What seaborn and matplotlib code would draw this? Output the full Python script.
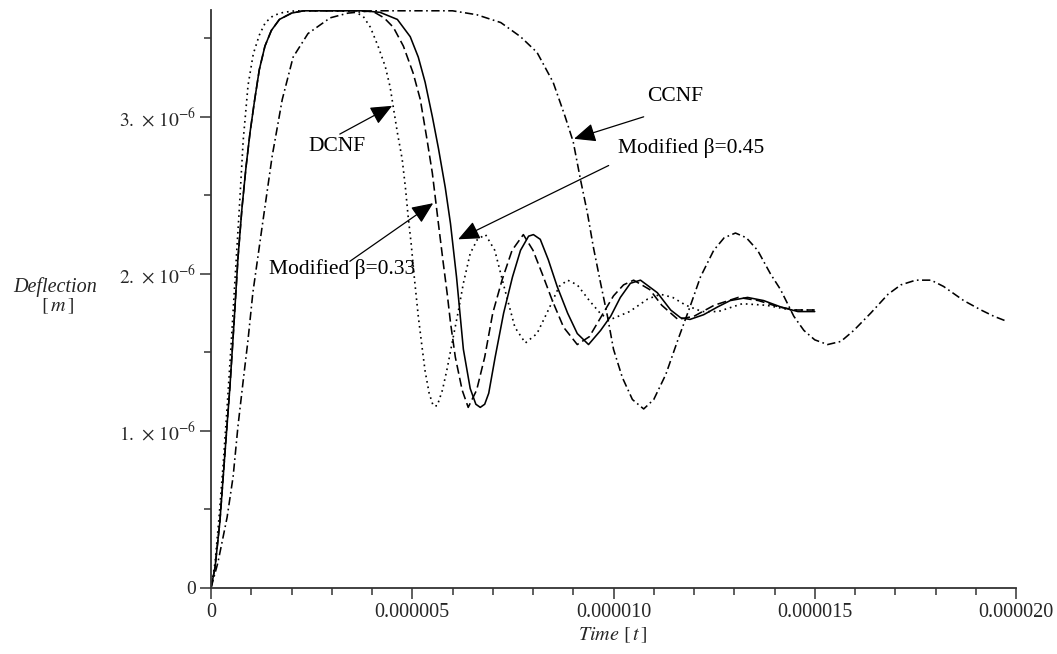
import numpy as np
import pandas as pd
import matplotlib
matplotlib.use("Agg")
import matplotlib.pyplot as plt
import seaborn as sns

# ---------------- data (time in microseconds, deflection in 1e-6 m) -------------
dcnf_t = [0, 0.1, 0.2, 0.3, 0.4, 0.5, 0.6, 0.7, 0.8, 0.92, 1.05, 1.2, 1.35, 1.55, 1.8, 2.1,
          2.8, 3.4, 3.6, 3.78, 3.96, 4.15, 4.33, 4.45, 4.53, 4.63, 4.75, 4.83, 4.90, 4.97,
          5.05, 5.15, 5.25, 5.32, 5.42, 5.52, 5.62, 5.75, 5.87, 6.02, 6.15, 6.27, 6.44,
          6.62, 6.82, 7.05, 7.3, 7.55, 7.81, 8.1, 8.4, 8.65, 8.86, 9.1, 9.4, 9.7, 9.93,
          10.4, 10.85, 11.17, 11.47, 11.8, 12.2, 12.6, 13.2, 13.8, 14.4, 15.0]
dcnf_y = [0, 0.16, 0.45, 0.78, 1.15, 1.55, 1.98, 2.4, 2.85, 3.2, 3.4, 3.52, 3.6, 3.645, 3.665, 3.675,
          3.675, 3.672, 3.665, 3.64, 3.57, 3.45, 3.32, 3.19, 3.06, 2.90, 2.73, 2.55, 2.36, 2.2,
          1.98, 1.73, 1.52, 1.38, 1.24, 1.16, 1.16, 1.26, 1.40, 1.60, 1.77, 1.94, 2.13,
          2.22, 2.25, 2.15, 1.90, 1.66, 1.56, 1.62, 1.78, 1.92, 1.96, 1.93, 1.83, 1.74, 1.71,
          1.76, 1.84, 1.87, 1.85, 1.80, 1.76, 1.76, 1.81, 1.80, 1.77, 1.77]

mod045_t = [0, 0.1, 0.22, 0.35, 0.47, 0.57, 0.67, 0.77, 0.87, 0.97, 1.08, 1.2, 1.34, 1.5, 1.7, 2.0,
            2.3, 3.0, 3.8, 4.2, 4.63, 4.95, 5.15, 5.32, 5.5, 5.65, 5.82, 5.95, 6.1, 6.27, 6.44,
            6.58, 6.69, 6.8, 6.9, 7.06, 7.27, 7.49, 7.69, 7.89, 8.01, 8.18, 8.38, 8.6, 8.86,
            9.1, 9.38, 9.68, 9.93, 10.17, 10.42, 10.67, 11.09, 11.42, 11.67, 11.9, 12.24,
            12.59, 12.9, 13.33, 13.73, 14.15, 14.58, 15.0]
mod045_y = [0, 0.13, 0.42, 0.87, 1.28, 1.68, 2.1, 2.42, 2.68, 2.9, 3.1, 3.3, 3.45, 3.55, 3.62, 3.66,
            3.675, 3.675, 3.675, 3.665, 3.62, 3.51, 3.38, 3.22, 3.0, 2.8, 2.55, 2.32, 1.98, 1.52, 1.27,
            1.17, 1.15, 1.17, 1.24, 1.47, 1.75, 1.98, 2.15, 2.24, 2.25, 2.22, 2.09, 1.92, 1.75,
            1.62, 1.55, 1.64, 1.73, 1.85, 1.94, 1.96, 1.88, 1.77, 1.72, 1.71, 1.74,
            1.79, 1.83, 1.85, 1.83, 1.79, 1.76, 1.76]

mod033_t = [0, 0.1, 0.22, 0.35, 0.47, 0.57, 0.67, 0.77, 0.87, 0.97, 1.08, 1.2, 1.34, 1.5, 1.7, 2.0,
            2.3, 3.0, 3.6, 4.03, 4.3, 4.53, 4.78, 5.02, 5.2, 5.37, 5.5, 5.65, 5.77, 5.87, 5.95,
            6.07, 6.24, 6.39, 6.6, 6.8, 7.0, 7.23, 7.48, 7.76, 8.0, 8.23, 8.48, 8.76, 9.1, 9.4,
            9.7, 10.0, 10.25, 10.5, 10.9, 11.2, 11.6, 12.0, 12.5, 13.1, 13.6, 14.1, 14.5, 15.0]
mod033_y = [0, 0.13, 0.42, 0.87, 1.28, 1.68, 2.1, 2.42, 2.68, 2.9, 3.1, 3.3, 3.45, 3.55, 3.62, 3.66,
            3.675, 3.675, 3.675, 3.67, 3.63, 3.57, 3.45, 3.28, 3.11, 2.85, 2.64, 2.32, 2.07, 1.87, 1.69,
            1.47, 1.26, 1.15, 1.26, 1.47, 1.75, 1.96, 2.15, 2.25, 2.15, 2.0, 1.83, 1.66, 1.55, 1.60,
            1.73, 1.86, 1.93, 1.96, 1.90, 1.80, 1.71, 1.73, 1.80, 1.85, 1.83, 1.79, 1.77, 1.77]

ccnf_t = [0, 0.17, 0.40, 0.55, 0.67, 0.80, 0.92, 1.04, 1.27, 1.52, 1.77, 2.04, 2.41, 2.96, 3.4,
          4.0, 5.0, 6.0, 6.6, 7.2, 7.69, 8.1, 8.5, 8.8, 9.0, 9.18, 9.35, 9.5, 9.68, 9.85, 10.0,
          10.22, 10.47, 10.75, 11.0, 11.3, 11.6, 11.9, 12.16, 12.49, 12.75, 13.03, 13.3, 13.58,
          13.9, 14.15, 14.48, 14.73, 15.0, 15.32, 15.65, 15.97, 16.39, 16.82, 17.14, 17.51,
          17.89, 18.2, 18.7, 19.13, 19.45, 19.75]
ccnf_y = [0, 0.16, 0.45, 0.71, 1.03, 1.32, 1.58, 1.88, 2.30, 2.75, 3.11, 3.38, 3.53, 3.63, 3.66,
          3.675, 3.675, 3.675, 3.65, 3.60, 3.51, 3.41, 3.22, 3.0, 2.84, 2.6, 2.39, 2.17, 1.94, 1.73, 1.52,
          1.34, 1.20, 1.14, 1.20, 1.36, 1.58, 1.79, 1.98, 2.15, 2.23, 2.26, 2.23, 2.15,
          2.0, 1.90, 1.73, 1.64, 1.58, 1.55, 1.57, 1.64, 1.75, 1.87, 1.93, 1.96,
          1.96, 1.92, 1.83, 1.77, 1.73, 1.70]

x_ticks = [0, 5, 10, 15, 20]
x_tick_labels = ["0", "0.000005", "0.000010", "0.000015", "0.000020"]
y_ticks = [0, 1, 2, 3]
y_tick_labels = ["0", r"$1.\ {\times}\ 10^{-6}$", r"$2.\ {\times}\ 10^{-6}$",
                 r"$3.\ {\times}\ 10^{-6}$"]

U = 1e-6

# ---------------- style -------------
sns.set_theme(style="white")
plt.rcParams["font.family"] = ["Liberation Serif", "DejaVu Serif"]
plt.rcParams["mathtext.fontset"] = "stix"
plt.rcParams["lines.scale_dashes"] = False

W, H = 1057, 654
fig = plt.figure(figsize=(W / 100, H / 100), dpi=100)
ax = fig.add_axes([211 / W, 1 - 588 / H, (1016 - 211) / W, (588 - 10) / H])

series = [
    (dcnf_t, dcnf_y, (0, (1.2, 2.8)), 1.2),
    (mod045_t, mod045_y, "-", 1.15),
    (mod033_t, mod033_y, (0, (6.5, 3.0)), 1.15),
    (ccnf_t, ccnf_y, (0, (6.0, 2.5, 1.2, 2.5)), 1.15),
]
for t, y, ls, lw in series:
    df = pd.DataFrame({"t": np.array(t) * U, "y": np.array(y) * U})
    sns.lineplot(data=df, x="t", y="y", ax=ax, color="black", lw=lw,
                 linestyle=ls, estimator=None, sort=False, legend=False)

ax.set_xlim(0, 20 * U)
ax.set_ylim(0, 3.68 * U)

ax.set_xticks(np.array(x_ticks) * U)
ax.set_xticklabels(x_tick_labels, fontsize=14.5)
ax.set_xticks(np.arange(0, 21) * U, minor=True)
ax.set_yticks(np.array(y_ticks) * U)
ax.set_yticklabels(y_tick_labels, fontsize=14)
ax.set_yticks(np.arange(0, 3.6, 0.5) * U, minor=True)

for s in ["top", "right"]:
    ax.spines[s].set_visible(False)
for s in ["left", "bottom"]:
    ax.spines[s].set_color("#333333")
    ax.spines[s].set_linewidth(1.3)

ax.tick_params(which="major", direction="out", length=8, width=1.1, color="#333333",
               pad=3, bottom=True, left=True)
ax.tick_params(which="minor", direction="out", length=5, width=1.1, color="#333333",
               bottom=True, left=True)
ax.set_xlabel("")
ax.set_ylabel("")
ax.grid(False)

# axis labels
fig.text(55 / W, 1 - 287 / H, "Deflection", ha="center", va="center",
         fontsize=14.5, style="italic")
fig.text(57 / W, 1 - 307 / H, r"$[\,m\,]$", ha="center", va="center", fontsize=14.5)
fig.text(613 / W, 1 - 636 / H, r"$Time\ [\,t\,]$", ha="center", va="center", fontsize=14.5)

# annotations (positions in data units: microseconds, 1e-6 m)
arrow_kw = dict(arrowstyle="-|>,head_length=0.55,head_width=0.24", color="black",
                lw=0.9, mutation_scale=24, shrinkA=0, shrinkB=0)


def note(label, text_pos, tail, tip):
    ax.text(text_pos[0] * U, text_pos[1] * U, label, ha="center", va="center",
            fontsize=15.5, color="black")
    ax.annotate("", xy=(tip[0] * U, tip[1] * U), xytext=(tail[0] * U, tail[1] * U),
                arrowprops=dict(arrow_kw))


note("DCNF", (3.13, 2.81), (3.2, 2.89), (4.50, 3.07))
note("CCNF", (11.54, 3.13), (10.75, 3.0), (9.02, 2.86))
note("Modified β=0.45", (11.94, 2.80), (9.88, 2.69), (6.14, 2.22))
note("Modified β=0.33", (3.26, 2.03), (3.45, 2.08), (5.52, 2.45))

fig.savefig("out.png", dpi=100)
